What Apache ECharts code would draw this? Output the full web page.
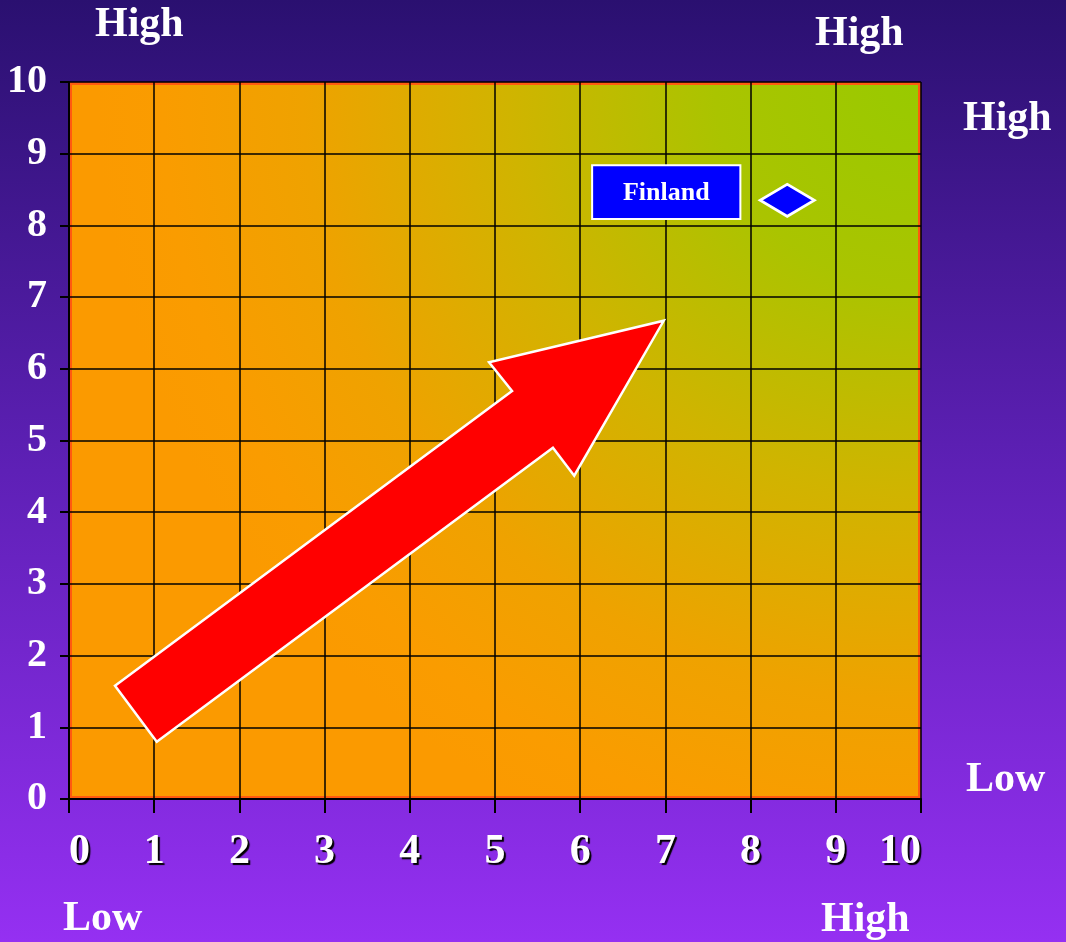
<!DOCTYPE html>
<html>
<head>
<meta charset="utf-8">
<script src="https://cdn.jsdelivr.net/npm/echarts@6/dist/echarts.min.js"></script>
<style>
html,body{margin:0;padding:0;width:1066px;height:942px;overflow:hidden;}
#chart{width:1066px;height:942px;}
</style>
</head>
<body>
<div id="chart"></div>
<script>
// ---- data ----
var xTicks = [0,1,2,3,4,5,6,7,8,9,10];
var yTicks = [0,1,2,3,4,5,6,7,8,9,10];
var countries = ['Finland'];
var countryX = [8.43];
var countryY = [8.35];
var labelBoxX = [6.14, 7.88];
var labelBoxY = [8.09, 8.84];
var arrowX = [0.54, 5.20, 4.93, 6.98, 5.93, 5.68, 1.03];
var arrowY = [1.58, 5.69, 6.09, 6.67, 4.51, 4.90, 0.80];
var cornerTexts = ['High','High','High','Low','Low','High'];

var serif = '"Liberation Serif","Times New Roman",serif';
var chart = echarts.init(document.getElementById('chart'), null, {renderer:'canvas'});

var option = {
  animation: false,
  backgroundColor: new echarts.graphic.LinearGradient(0,0,0,1,[
    {offset:0, color:'#2a1070'},
    {offset:0.5, color:'#5e20b6'},
    {offset:1, color:'#9530f2'}
  ]),
  grid: {left:69, right:145, top:82, bottom:143, containLabel:false},
  xAxis: {
    type:'value', min:0, max:10, interval:1, z:5,
    axisLine:{show:true, onZero:false, lineStyle:{color:'#000', width:2}},
    axisTick:{show:true, length:14, lineStyle:{color:'#000', width:2}},
    splitLine:{show:true, lineStyle:{color:'#000', width:1.5}},
    axisLabel:{
      color:'#fff', fontFamily:serif, fontWeight:'bold', fontSize:42, margin:32,
      textShadowColor:'#000', textShadowOffsetX:2, textShadowOffsetY:2, textShadowBlur:1,
      alignMinLabel:'left', alignMaxLabel:'right',
      formatter:function(v){return String(v);}
    }
  },
  yAxis: {
    type:'value', min:0, max:10, interval:1, z:5,
    axisLine:{show:true, onZero:false, lineStyle:{color:'#000', width:2}},
    axisTick:{show:true, length:9, lineStyle:{color:'#000', width:2}},
    splitLine:{show:true, lineStyle:{color:'#000', width:1.5}},
    axisLabel:{
      color:'#fff', fontFamily:serif, fontWeight:'bold', fontSize:40, margin:22,
      formatter:function(v){return String(v);}
    }
  },
  graphic: [
    {type:'text', left:95, top:4, style:{text:cornerTexts[0], fill:'#fff', font:'bold 42px '+serif}},
    {type:'text', left:815, top:13, style:{text:cornerTexts[1], fill:'#fff', font:'bold 42px '+serif}},
    {type:'text', left:963, top:98, style:{text:cornerTexts[2], fill:'#fff', font:'bold 42px '+serif}},
    {type:'text', left:966, top:759, style:{text:cornerTexts[3], fill:'#fff', font:'bold 42px '+serif}},
    {type:'text', left:63, top:898, style:{text:cornerTexts[4], fill:'#fff', font:'bold 42px '+serif}},
    {type:'text', left:821, top:899, style:{text:cornerTexts[5], fill:'#fff', font:'bold 42px '+serif}}
  ],
  series: [
    {
      type:'custom', z:1, silent:true,
      data:[[0,0,10,10]],
      renderItem:function(params, api){
        var p0 = api.coord([api.value(0), api.value(3)]);
        var p1 = api.coord([api.value(2), api.value(1)]);
        return {
          type:'rect',
          shape:{x:p0[0]+1.5, y:p0[1]+1.5, width:p1[0]-p0[0]-3, height:p1[1]-p0[1]-3},
          style:{
            fill:new echarts.graphic.RadialGradient(1,0,1.15,[
              {offset:0, color:'#98ca00'},
              {offset:0.25, color:'#aac400'},
              {offset:0.5, color:'#d0b400'},
              {offset:0.75, color:'#efa200'},
              {offset:0.92, color:'#fa9c00'},
              {offset:1, color:'#fb9a00'}
            ]),
            stroke:'#ff5a10', lineWidth:3
          }
        };
      }
    },
    {
      type:'custom', z:10, silent:true,
      data:[0],
      renderItem:function(params, api){
        var pts = arrowX.map(function(x,i){return api.coord([x, arrowY[i]]);});
        return {
          type:'polygon',
          shape:{points:pts},
          style:{fill:'#ff0000', stroke:'#ffffff', lineWidth:2.5, lineJoin:'miter'}
        };
      }
    },
    {
      type:'custom', z:10, silent:true,
      data:[[labelBoxX[0], labelBoxY[0], labelBoxX[1], labelBoxY[1]]],
      renderItem:function(params, api){
        var p0 = api.coord([api.value(0), api.value(3)]);
        var p1 = api.coord([api.value(2), api.value(1)]);
        return {
          type:'group',
          children:[
            {type:'rect', shape:{x:p0[0], y:p0[1], width:p1[0]-p0[0], height:p1[1]-p0[1]},
             style:{fill:'#0000ff', stroke:'#ffffff', lineWidth:2}},
            {type:'text', style:{text:countries[0], x:(p0[0]+p1[0])/2, y:(p0[1]+p1[1])/2+1,
              align:'center', verticalAlign:'middle', fill:'#fff', font:'bold 26px '+serif}}
          ]
        };
      }
    },
    {
      type:'scatter', z:10, silent:true,
      symbol:'diamond', symbolSize:[54,32],
      itemStyle:{color:'#0000ff', borderColor:'#ffffff', borderWidth:3, opacity:1},
      data: countryX.map(function(x,i){return [x, countryY[i]];})
    }
  ]
};
chart.setOption(option);
</script>
</body>
</html>
